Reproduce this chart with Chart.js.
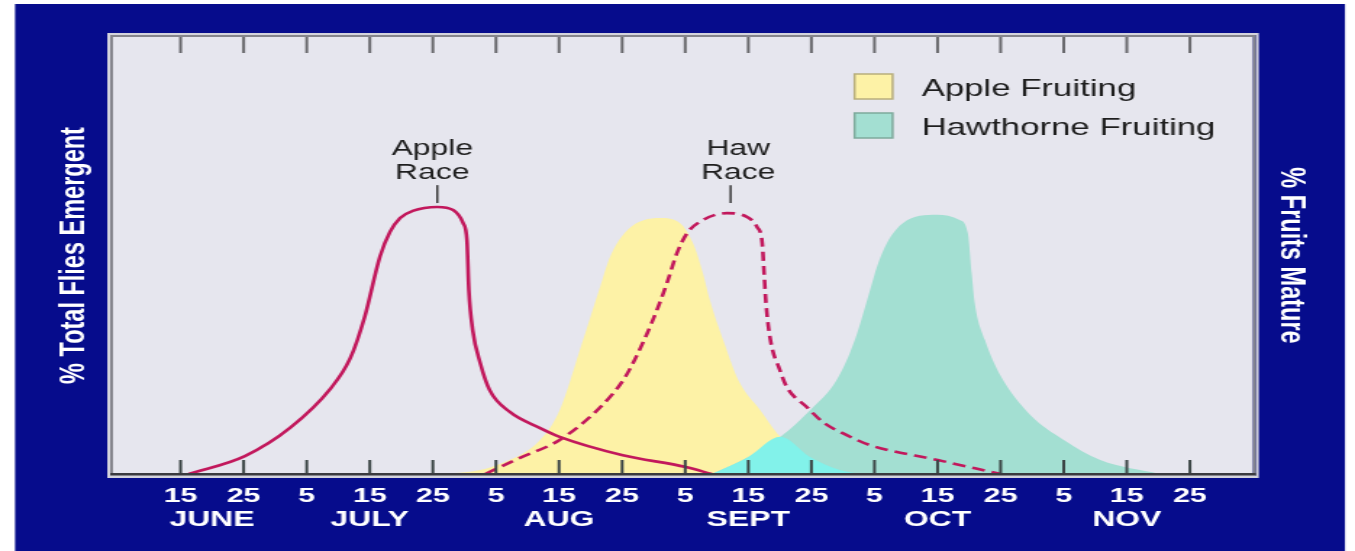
<!DOCTYPE html>
<html>
<head>
<meta charset="utf-8">
<script src="https://cdn.jsdelivr.net/npm/chart.js@4.4.1/dist/chart.umd.min.js"></script>
<style>
  html, body { margin: 0; padding: 0; background: #ffffff; }
  /* the picture is drawn narrow and stretched sideways, like the original slide */
  #chart { display: block; width: 1355px !important; height: 551px !important; }
</style>
</head>
<body>
<canvas id="chart" width="935" height="551" style="width:1355px;height:551px"></canvas>
<script>
// x runs in 10-day steps: 0 = 15 June, 1 = 25 June, 2 = 5 July ... 16 = 25 Nov
const tickLabels = ['15','25','5','15','25','5','15','25','5','15','25','5','15','25','5','15','25'];
const monthNames = ['JUNE','JULY','AUG','SEPT','OCT','NOV'];
const monthAt = [0.5, 3, 6, 9, 12, 15];

const raceNames = ['Apple Race', 'Haw Race'];
const fruitNames = ['Apple Fruiting', 'Hawthorne Fruiting'];

// % flies emergent
const appleRaceX = [0.13, 1.02, 1.74, 2.37, 2.69, 2.92, 3.16, 3.32, 3.48, 3.68, 4.07, 4.32, 4.48, 4.54, 4.57, 4.63, 4.75, 4.90, 5.22, 5.70, 6.01, 7.01, 8.01, 8.42];
const appleRaceY = [0, 4.1, 10.6, 19.4, 26.5, 36.0, 49.7, 55.4, 58.6, 60.2, 61.1, 60.4, 57.4, 53.5, 42.1, 33.0, 25.4, 19.2, 14.2, 10.5, 8.5, 4.3, 1.6, 0];

const hawRaceX = [4.83, 5.38, 6.01, 6.64, 7.04, 7.35, 7.57, 7.71, 7.87, 8.03, 8.23, 8.66, 8.98, 9.14, 9.22, 9.25, 9.28, 9.35, 9.50, 9.61, 9.93, 10.18, 10.56, 10.93, 12.00, 13.00];
const hawRaceY = [0, 3.7, 7.8, 15.1, 22.0, 30.7, 38.2, 43.7, 50.6, 55.1, 57.7, 59.7, 58.8, 56.5, 52.9, 46.0, 39.1, 30.7, 23.8, 19.9, 15.3, 11.9, 8.9, 6.6, 3.2, 0];

// % fruits mature
const appleFruitX = [3.95, 4.59, 5.06, 5.70, 6.01, 6.33, 6.65, 6.81, 7.08, 7.60, 7.92, 8.12, 8.28, 8.39, 8.63, 8.84, 9.19, 9.51, 9.98, 10.45, 10.77];
const appleFruitY = [0, 0.5, 2.3, 7.8, 14.6, 28.4, 42.8, 49.7, 55.8, 58.6, 57.4, 52.9, 46.0, 39.8, 29.5, 21.5, 14.6, 8.5, 3.9, 0.9, 0];

const hawFruitX = [8.42, 9.00, 9.51, 9.98, 10.40, 10.69, 10.93, 11.04, 11.20, 11.45, 11.99, 12.35, 12.48, 12.54, 12.59, 12.75, 12.99, 13.47, 14.00, 14.58, 15.52];
const hawFruitY = [0, 3.9, 8.5, 14.6, 21.5, 30.7, 42.1, 47.4, 52.9, 57.4, 59.3, 58.1, 55.1, 46.0, 39.1, 30.7, 22.7, 13.5, 7.8, 3.2, 0];

// where both fruitings overlap (brighter cyan)
const overlapX = [8.42, 9.00, 9.51, 9.98, 10.45, 10.77];
const overlapY = [0, 3.9, 8.5, 3.9, 0.9, 0];

function pts(xs, ys) {
    return xs.map((x, k) => ({x: x, y: ys[k]}));
}

const FONT = '"Liberation Sans", Arial, sans-serif';
const RED = '#c2185c';

const backdrop = {
    id: 'backdrop',
    beforeDraw(chart) {
        const {ctx, chartArea: a} = chart;
        ctx.save();
        ctx.fillStyle = '#ffffff';
        ctx.fillRect(0, 0, chart.width, chart.height);
        ctx.fillStyle = '#060c8c';
        ctx.fillRect(10.4, 4, 917.7, chart.height - 4);
        ctx.fillStyle = '#e6e6ee';
        ctx.fillRect(a.left, a.top, a.right - a.left, a.bottom - a.top);
        ctx.lineWidth = 2;
        ctx.strokeStyle = '#d4d4dc';
        ctx.strokeRect(a.left - 3, a.top - 3, a.right - a.left + 6, a.bottom - a.top + 6);
        ctx.strokeStyle = '#85858c';
        ctx.strokeRect(a.left - 1, a.top - 1, a.right - a.left + 2, a.bottom - a.top + 2);
        ctx.restore();
    }
};

const tickMarks = {
    id: 'tickMarks',
    afterDatasetsDraw(chart) {
        const {ctx, chartArea: a, scales: {x}} = chart;
        ctx.save();
        ctx.lineWidth = 2;
        x.ticks.forEach(t => {
            const px = x.getPixelForValue(t.value);
            ctx.strokeStyle = '#6a6a6e';
            ctx.beginPath(); ctx.moveTo(px, a.top); ctx.lineTo(px, a.top + 16); ctx.stroke();
            ctx.strokeStyle = '#3c4646';
            ctx.beginPath(); ctx.moveTo(px, a.bottom - 14); ctx.lineTo(px, a.bottom); ctx.stroke();
        });
        ctx.strokeStyle = '#3a3a3e';
        ctx.beginPath(); ctx.moveTo(a.left - 2, a.bottom); ctx.lineTo(a.right + 2, a.bottom); ctx.stroke();
        ctx.restore();
    }
};

const extras = {
    id: 'extras',
    afterDraw(chart) {
        const {ctx, scales: {x, y}} = chart;
        ctx.save();

        // month names under the day ticks
        ctx.fillStyle = '#ffffff';
        ctx.font = 'bold 22px ' + FONT;
        ctx.textAlign = 'center';
        ctx.textBaseline = 'middle';
        monthNames.forEach((m, k) => ctx.fillText(m, x.getPixelForValue(monthAt[k]), 520));

        // race call-outs above the peaks
        const notes = [
            {text: raceNames[0], at: 3.99, lineAt: 4.07},
            {text: raceNames[1], at: 8.84, lineAt: 8.72}
        ];
        ctx.fillStyle = '#1e1e1e';
        ctx.strokeStyle = '#3a3a3a';
        ctx.lineWidth = 1.5;
        ctx.font = '22px ' + FONT;
        ctx.textBaseline = 'alphabetic';
        notes.forEach(n => {
            const words = n.text.split(' ');
            const tx = x.getPixelForValue(n.at);
            ctx.fillText(words[0], tx, y.getPixelForValue(73.0));
            ctx.fillText(words[1], tx, y.getPixelForValue(67.5));
            const lx = x.getPixelForValue(n.lineAt);
            ctx.beginPath();
            ctx.moveTo(lx, y.getPixelForValue(66.1));
            ctx.lineTo(lx, y.getPixelForValue(62));
            ctx.stroke();
        });

        // legend, top right inside the plot
        const rows = fruitNames.map(name => chart.data.datasets.find(d => d.label === name));
        const edges = ['#b8ae7c', '#7eaa9c'];
        ctx.font = '24px ' + FONT;
        ctx.textAlign = 'left';
        ctx.textBaseline = 'middle';
        rows.forEach((d, k) => {
            const top = 74 + k * 39;
            ctx.fillStyle = d.backgroundColor;
            ctx.fillRect(589.7, top, 26.2, 25);
            ctx.strokeStyle = edges[k];
            ctx.lineWidth = 1.5;
            ctx.strokeRect(589.7, top, 26.2, 25);
            ctx.fillStyle = '#1e1e1e';
            ctx.fillText(d.label, 635.9, top + 15);
        });
        ctx.restore();
    }
};

const fillStyle = {
    pointRadius: 0,
    borderWidth: 0,
    borderColor: 'rgba(0,0,0,0)',
    fill: 'origin',
    yAxisID: 'y2',
    cubicInterpolationMode: 'monotone'
};

new Chart(document.getElementById('chart'), {
    type: 'line',
    data: {
        datasets: [
            {label: raceNames[0], data: pts(appleRaceX, appleRaceY), yAxisID: 'y', borderColor: RED,
             borderWidth: 2.6, pointRadius: 0, fill: false, cubicInterpolationMode: 'monotone', order: 0},
            {label: raceNames[1], data: pts(hawRaceX, hawRaceY), yAxisID: 'y', borderColor: RED,
             borderWidth: 2.6, borderDash: [9, 5], pointRadius: 0, fill: false, cubicInterpolationMode: 'monotone', order: 0},
            Object.assign({label: 'Overlap', data: pts(overlapX, overlapY), backgroundColor: '#82f2ea', order: 1}, fillStyle),
            Object.assign({label: fruitNames[1], data: pts(hawFruitX, hawFruitY), backgroundColor: '#a3dfd2', order: 2}, fillStyle),
            Object.assign({label: fruitNames[0], data: pts(appleFruitX, appleFruitY), backgroundColor: '#fdf2a6', order: 3}, fillStyle)
        ]
    },
    options: {
        responsive: false,
        animation: false,
        devicePixelRatio: 1,
        // the x axis takes label height + 2 * tick padding (25.2 + 18.8)
        layout: {padding: {top: 37, bottom: 33, left: 10, right: 10}},
        plugins: {legend: {display: false}, tooltip: {enabled: false}},
        scales: {
            x: {
                type: 'linear',
                min: -1.07,
                max: 17.0,
                afterBuildTicks: scale => { scale.ticks = tickLabels.map((_, k) => ({value: k})); },
                grid: {display: false, drawTicks: false},
                border: {display: false},
                ticks: {
                    autoSkip: false,
                    maxRotation: 0,
                    padding: 9.4,
                    color: '#ffffff',
                    font: {family: FONT, size: 21, weight: 'bold'},
                    callback: v => tickLabels[v]
                }
            },
            y: {
                position: 'left',
                min: 0,
                max: 100,
                grid: {display: false, drawTicks: false},
                border: {display: false},
                ticks: {display: false},
                title: {
                    display: true,
                    text: '% Total Flies Emergent',
                    color: '#ffffff',
                    font: {family: FONT, size: 23.5, weight: 'bold'},
                    padding: {top: 27.7, bottom: 12.1}
                }
            },
            y2: {
                position: 'right',
                min: 0,
                max: 100,
                grid: {display: false, drawTicks: false},
                border: {display: false},
                ticks: {display: false},
                title: {
                    display: true,
                    text: '% Fruits Mature',
                    color: '#ffffff',
                    font: {family: FONT, size: 23.5, weight: 'bold'},
                    padding: {top: 20.9, bottom: 11.3}
                }
            }
        }
    },
    plugins: [backdrop, tickMarks, extras]
});
</script>
</body>
</html>
